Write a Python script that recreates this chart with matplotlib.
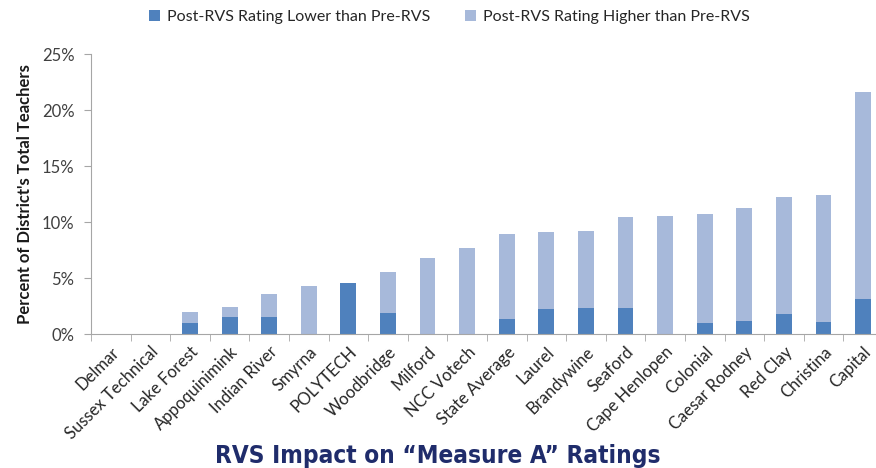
import numpy as np
import matplotlib
matplotlib.use("Agg")
import matplotlib.pyplot as plt

# district names, ordered as in the chart
districts = ["Delmar", "Sussex Technical", "Lake Forest", "Appoquinimink",
             "Indian River", "Smyrna", "POLYTECH", "Woodbridge", "Milford",
             "NCC Votech", "State Average", "Laurel", "Brandywine", "Seaford",
             "Cape Henlopen", "Colonial", "Caesar Rodney", "Red Clay",
             "Christina", "Capital"]

# percent of district's teachers whose post-RVS rating was lower
lower_pct = [0.0, 0.0, 1.0, 1.5, 1.55, 0.0, 4.55, 1.87, 0.0,
             0.0, 1.31, 2.23, 2.32, 2.32, 0.0, 0.98, 1.19, 1.76, 1.07, 3.13]
# total percent of teachers whose rating changed (lower + higher)
total_pct = [0.0, 0.0, 2.0, 2.41, 3.57, 4.32, 4.55, 5.57, 6.76,
             7.68, 8.93, 9.1, 9.2, 10.42, 10.57, 10.75, 11.22, 12.26, 12.38, 21.65]

higher_pct = [t - l for t, l in zip(total_pct, lower_pct)]

dark_blue = "#4F81BD"
light_blue = "#A7B9DA"
axis_grey = "#A6A6A6"
font = ["Lato", "DejaVu Sans"]

plt.rcParams['font.family'] = font

fig = plt.figure(figsize=(8.76, 4.68), dpi=100)
ax = fig.add_axes([0.1039, 0.2863, 0.904, 0.5983])

x = np.arange(len(districts))
ax.bar(x, lower_pct, width=0.4, color=dark_blue, label="Post-RVS Rating Lower than Pre-RVS")
ax.bar(x, higher_pct, width=0.4, bottom=lower_pct, color=light_blue,
       label="Post-RVS Rating Higher than Pre-RVS")

ax.set_xlim(-0.5, len(districts) - 0.5)
ax.set_ylim(0, 25)
ax.set_yticks([0, 5, 10, 15, 20, 25])
ax.set_yticklabels(["0%", "5%", "10%", "15%", "20%", "25%"], fontsize=12, color="#404040")

ax.set_xticks(x)
ax.set_xticklabels(districts, rotation=45, ha="right", rotation_mode="anchor",
                   fontsize=12, color="#262626")
ax.set_xticks(np.arange(-0.5, len(districts), 1), minor=True)
ax.tick_params(axis="x", which="major", length=0, pad=7)
ax.tick_params(axis="x", which="minor", length=5, color=axis_grey, direction="out")
ax.tick_params(axis="y", length=5, color=axis_grey, pad=7)

for side in ["top", "right"]:
    ax.spines[side].set_visible(False)
for side in ["left", "bottom"]:
    ax.spines[side].set_color(axis_grey)

ax.set_ylabel("Percent of District's Total Teachers", fontsize=12,
              fontweight="bold", color="#1a1a1a", labelpad=6)

fig.legend(loc="upper center", bbox_to_anchor=(0.513, 1.01), ncol=2, frameon=False,
           fontsize=11.5, handlelength=0.7, handleheight=0.7, columnspacing=2.2,
           handletextpad=0.4, labelcolor="#262626")

fig.text(0.5, 0.0, "RVS Impact on \u201cMeasure A\u201d Ratings", ha="center", va="bottom",
         fontsize=17.5, fontweight="bold", color="#1F2C6B",
         family=["Liberation Sans Narrow", "DejaVu Sans"], fontstretch="condensed")

fig.savefig("out.png", dpi=100)
